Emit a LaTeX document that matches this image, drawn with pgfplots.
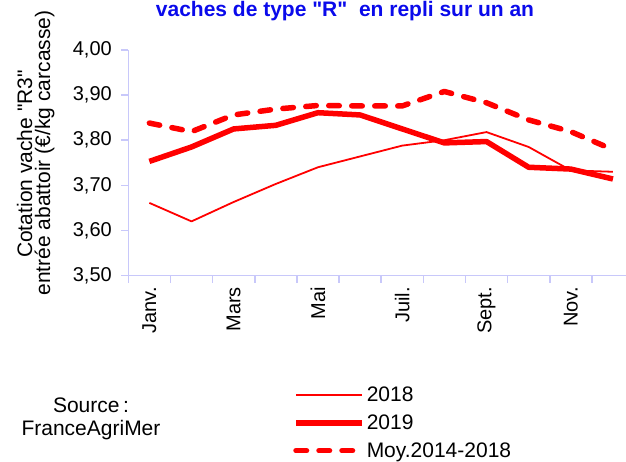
\documentclass[border=0pt]{standalone}
\usepackage{fontspec}
\setmainfont{Liberation Sans}[Ligatures=TeXOff]
\usepackage{pgfplots}
\usepackage{pgfplotstable}
\pgfplotsset{compat=1.18}

\definecolor{axisblue}{RGB}{200,200,250}
\definecolor{titleblue}{RGB}{10,10,235}
\definecolor{linered}{RGB}{255,0,0}

% mois 0 = janvier ... 11 = decembre, cotation en EUR/kg carcasse
\pgfplotstableread{
m y2018 y2019 moy
0  3.661 3.753 3.838
1  3.620 3.785 3.819
2  3.663 3.825 3.856
3  3.703 3.833 3.869
4  3.740 3.861 3.877
5  3.764 3.856 3.876
6  3.788 3.825 3.876
7  3.800 3.794 3.908
8  3.818 3.797 3.883
9  3.785 3.740 3.845
10 3.733 3.736 3.819
11 3.730 3.714 3.779
}\cotation

\begin{document}
\begin{tikzpicture}[x=1pt,y=1pt]
\path[use as bounding box] (0,0) rectangle (626,461);

\node[anchor=base, font=\fontsize{21}{25}\selectfont\bfseries, text=titleblue]
  at (345,444.5) {vaches de type "R"\ \ en repli sur un an};

\node[anchor=base, rotate=90, font=\fontsize{21}{25}\selectfont]
  at (32,297) {Cotation vache "R3"};
\node[anchor=base, rotate=90, font=\fontsize{21}{25}\selectfont]
  at (50,308) {entrée abattoir (€/kg carcasse)};

\node[anchor=base, font=\fontsize{21}{25}\selectfont] at (91,49) {Source\,:};
\node[anchor=base, font=\fontsize{21}{25}\selectfont] at (91,26) {FranceAgriMer};

\begin{axis}[
  at={(128.3pt,185.5pt)}, anchor=south west,
  scale only axis, width=497.7pt, height=225.5pt,
  xmin=-0.5, xmax=11.31, ymin=3.5, ymax=4.0,
  axis x line*=bottom, axis y line*=left,
  axis line style={axisblue, line width=1.6pt},
  tick style={axisblue, line width=1.6pt},
  tick align=outside, major tick length=7pt,
  xtick={-0.5,0.5,1.5,2.5,3.5,4.5,5.5,6.5,7.5,8.5,9.5,10.5,11.5},
  xticklabels={},
  extra x ticks={0,2,4,6,8,10},
  extra x tick labels={Janv.,Mars,Mai,Juil.,Sept.,Nov.},
  extra x tick style={major tick length=0pt,
    xticklabel style={rotate=90, anchor=east, xshift=-8pt, font=\fontsize{20}{24}\selectfont}},
  ytick={3.5,3.6,3.7,3.8,3.9,4.0},
  yticklabel style={font=\fontsize{20}{24}\selectfont, xshift=-6pt},
  /pgf/number format/.cd, fixed, fixed zerofill, precision=2, use comma,
  assume math mode=true,
  /pgfplots/.cd,
  legend style={at={(axis description cs:0.325,-0.477)}, anchor=north west,
    draw=none, fill=none, font=\fontsize{21}{25}\selectfont, row sep=7.5pt},
  legend cell align=left,
  legend image code/.code={\draw[#1] (0pt,0pt) -- (66pt,0pt);},
]
\addplot[linered, line width=1.8pt, line join=round] table[x=m, y=y2018] {\cotation};
\addlegendentry{2018}
\addplot[linered, line width=5.5pt, line join=round] table[x=m, y=y2019] {\cotation};
\addlegendentry{2019}
\addplot[linered, line width=5.5pt, line join=round, line cap=round,
  dash pattern=on 10.5pt off 12.5pt] table[x=m, y=moy] {\cotation};
\addlegendentry{Moy.2014-2018}
\end{axis}
\end{tikzpicture}
\end{document}
